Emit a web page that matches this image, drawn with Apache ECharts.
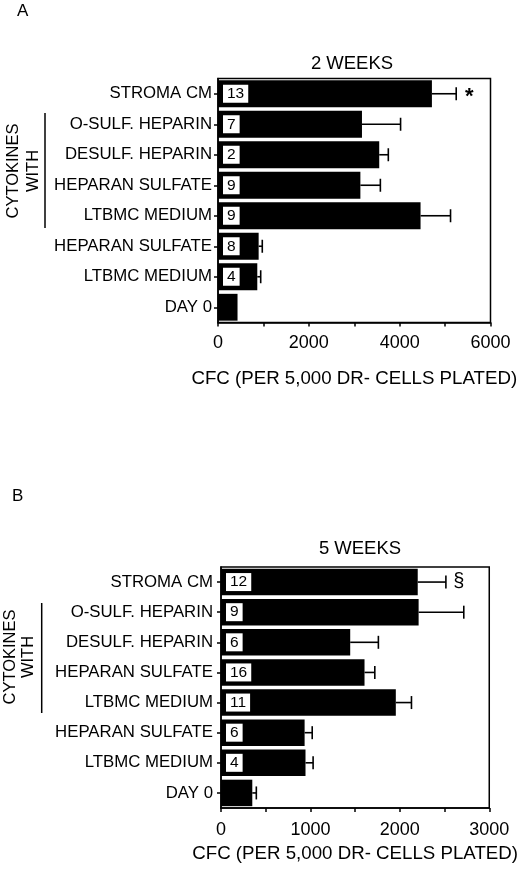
<!DOCTYPE html>
<html>
<head>
<meta charset="utf-8">
<script src="https://cdn.jsdelivr.net/npm/echarts@6/dist/echarts.min.js"></script>
<style>
html,body{margin:0;padding:0;background:#fff;}
#chart{width:520px;height:875px;}
</style>
</head>
<body>
<div id="chart"></div>
<script>
const categories = ['STROMA CM','O-SULF. HEPARIN','DESULF. HEPARIN','HEPARAN SULFATE','LTBMC MEDIUM','HEPARAN SULFATE','LTBMC MEDIUM','DAY 0'];

const nA = ['13','7','2','9','9','8','4',''];
const valuesA = [4710, 3170, 3550, 3135, 4460, 895, 865, 430];
const errEndA = [5245, 4020, 3750, 3575, 5120, 975, 940, null];
const marksA = ['*','','','','','','',''];

const nB = ['12','9','6','16','11','6','4',''];
const valuesB = [2200, 2210, 1445, 1605, 1955, 935, 945, 350];
const errEndB = [2515, 2715, 1760, 1720, 2130, 1020, 1030, 395];
const marksB = ['§','','','','','','',''];

const titleA = '2 WEEKS';
const titleB = '5 WEEKS';
const xNameText = 'CFC (PER 5,000 DR- CELLS PLATED)';
const xTicksA = [0, 2000, 4000, 6000];
const xTicksB = [0, 1000, 2000, 3000];

const FONT = '"Liberation Sans", Arial, Helvetica, sans-serif';

function barData(vals, ns) {
  return vals.map((v, i) => ({
    value: v,
    label: { show: ns[i] !== '' }
  }));
}
function errData(vals, ends) {
  const out = [];
  vals.forEach((v, i) => { if (ends[i] != null) out.push([v, ends[i], i]); });
  return out;
}
function errRender(marks) {
  return function (params, api) {
    const ci = api.value(2);
    const p0 = api.coord([api.value(0), ci]);
    const p1 = api.coord([api.value(1), ci]);
    const h = 13;
    const children = [
      { type: 'line', shape: { x1: p0[0], y1: p0[1], x2: p1[0], y2: p1[1] }, style: { stroke: '#000', lineWidth: 1.6 } },
      { type: 'line', shape: { x1: p1[0], y1: p1[1] - h / 2, x2: p1[0], y2: p1[1] + h / 2 }, style: { stroke: '#000', lineWidth: 1.6 } }
    ];
    const m = marks[ci];
    if (m) {
      const star = m === '*';
      children.push({ type: 'text', x: p1[0] + 13, y: p1[1] + (star ? 3 : -1),
        style: { text: m, fill: '#000', font: (star ? 'bold 22px ' : '20px ') + FONT, align: 'center', verticalAlign: 'middle' } });
    }
    return { type: 'group', children };
  };
}

function xAxisCfg(gi, max, interval, ticks, nameGap, margin) {
  return {
    gridIndex: gi, type: 'value', min: 0, max: max, interval: interval,
    name: xNameText, nameLocation: 'middle', nameGap: nameGap,
    nameTextStyle: { color: '#000', fontSize: 18.7, fontFamily: FONT },
    axisLine: { show: true, lineStyle: { color: '#000', width: 1.5 } },
    axisTick: { show: true, length: 4, inside: false, lineStyle: { color: '#000', width: 1.5 } },
    axisLabel: { color: '#000', fontSize: 18, fontFamily: FONT, margin: margin,
      formatter: v => (ticks.indexOf(v) >= 0 ? String(v) : '') },
    splitLine: { show: false }
  };
}
function yAxisCfg(gi, margin) {
  return {
    gridIndex: gi, type: 'category', data: categories, inverse: true,
    axisLine: { show: true, lineStyle: { color: '#000', width: 1.5 } },
    axisTick: { show: true, alignWithLabel: true, length: 4, lineStyle: { color: '#000', width: 1.5 } },
    axisLabel: { color: '#000', fontSize: 16.8, fontFamily: FONT, margin: margin, interval: 0 },
    splitLine: { show: false }
  };
}
function barSeries(idx, vals, ns) {
  return {
    type: 'bar', xAxisIndex: idx, yAxisIndex: idx,
    data: barData(vals, ns), barCategoryGap: '12%',
    itemStyle: { color: '#000' },
    label: {
      position: 'insideLeft', distance: 5,
      formatter: p => ns[p.dataIndex],
      color: '#000', backgroundColor: '#fff', padding: [1, 4, 1, 4],
      fontSize: 15.5, fontFamily: FONT, lineHeight: 16
    },
    silent: true
  };
}

const chart = echarts.init(document.getElementById('chart'), null, { renderer: 'canvas' });
chart.setOption({
  backgroundColor: '#fff',
  animation: false,
  title: [
    { text: titleA, left: 347, top: 49, textAlign: 'center',
      textStyle: { color: '#000', fontSize: 18.5, fontWeight: 'normal', fontFamily: FONT } },
    { text: titleB, left: 355, top: 534, textAlign: 'center',
      textStyle: { color: '#000', fontSize: 18.5, fontWeight: 'normal', fontFamily: FONT } }
  ],
  grid: [
    { left: 218, top: 78.5, width: 272.5, height: 244, show: true, borderColor: '#000', borderWidth: 1.5 },
    { left: 221, top: 567, width: 272, height: 241, show: true, borderColor: '#000', borderWidth: 1.5 }
  ],
  xAxis: [
    xAxisCfg(0, 6000, 1000, xTicksA, 46.5, 12),
    xAxisCfg(1, 3000, 500, xTicksB, 36.5, 13)
  ],
  yAxis: [yAxisCfg(0, 6), yAxisCfg(1, 8)],
  series: [
    barSeries(0, valuesA, nA),
    barSeries(1, valuesB, nB),
    { type: 'custom', xAxisIndex: 0, yAxisIndex: 0, renderItem: errRender(marksA),
      data: errData(valuesA, errEndA), encode: { x: [0, 1], y: 2 }, z: 5, silent: true },
    { type: 'custom', xAxisIndex: 1, yAxisIndex: 1, renderItem: errRender(marksB),
      data: errData(valuesB, errEndB), encode: { x: [0, 1], y: 2 }, z: 5, silent: true }
  ],
  graphic: [
    { type: 'text', left: 17, top: 3, style: { text: 'A', fill: '#000', font: '17px ' + FONT } },
    { type: 'text', left: 12, top: 488, style: { text: 'B', fill: '#000', font: '17px ' + FONT } },
    { type: 'line', shape: { x1: 45, y1: 113, x2: 45, y2: 228 }, style: { stroke: '#000', lineWidth: 1.5 } },
    { type: 'text', x: 13, y: 171, rotation: Math.PI / 2,
      style: { text: 'CYTOKINES', fill: '#000', font: '16.5px ' + FONT, align: 'center', verticalAlign: 'middle' } },
    { type: 'text', x: 33, y: 171, rotation: Math.PI / 2,
      style: { text: 'WITH', fill: '#000', font: '16.5px ' + FONT, align: 'center', verticalAlign: 'middle' } },
    { type: 'line', shape: { x1: 41.7, y1: 603, x2: 41.7, y2: 713 }, style: { stroke: '#000', lineWidth: 1.5 } },
    { type: 'text', x: 10, y: 657, rotation: Math.PI / 2,
      style: { text: 'CYTOKINES', fill: '#000', font: '16.5px ' + FONT, align: 'center', verticalAlign: 'middle' } },
    { type: 'text', x: 28, y: 657, rotation: Math.PI / 2,
      style: { text: 'WITH', fill: '#000', font: '16.5px ' + FONT, align: 'center', verticalAlign: 'middle' } }
  ]
});
</script>
</body>
</html>
